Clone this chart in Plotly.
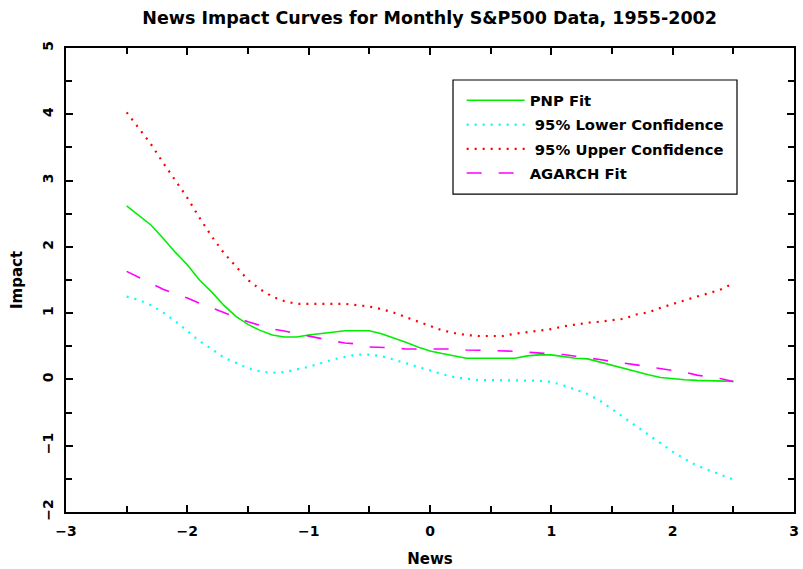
import plotly.graph_objects as go

news = [round(-2.5 + 0.1 * i, 1) for i in range(51)]

pnp_fit = [2.62, 2.48, 2.33, 2.13, 1.92, 1.73, 1.50, 1.32, 1.12, 0.95,
           0.83, 0.74, 0.67, 0.64, 0.64, 0.67, 0.69, 0.72, 0.735, 0.735,
           0.735, 0.69, 0.63, 0.56, 0.49, 0.43, 0.39, 0.355, 0.32, 0.32,
           0.32, 0.32, 0.32, 0.355, 0.37, 0.37, 0.34, 0.32, 0.31, 0.26,
           0.22, 0.17, 0.12, 0.07, 0.03, 0.01, -0.005, -0.015, -0.02, -0.03,
           -0.03]

lower_conf = [1.25, 1.20, 1.12, 1.01, 0.88, 0.73, 0.58, 0.46, 0.33, 0.25,
              0.17, 0.12, 0.10, 0.11, 0.15, 0.19, 0.245, 0.30, 0.34, 0.375,
              0.375, 0.35, 0.30, 0.245, 0.19, 0.13, 0.08, 0.035, 0.015, -0.01,
              -0.01, -0.01, -0.01, -0.01, -0.02, -0.04, -0.09, -0.155, -0.22, -0.32,
              -0.45, -0.57, -0.70, -0.84, -0.96, -1.09, -1.20, -1.30, -1.37, -1.44,
              -1.51]

upper_conf = [4.03, 3.79, 3.55, 3.27, 3.00, 2.74, 2.44, 2.16, 1.91, 1.70,
              1.50, 1.36, 1.25, 1.18, 1.14, 1.14, 1.14, 1.14, 1.14, 1.12,
              1.10, 1.06, 1.01, 0.94, 0.87, 0.80, 0.74, 0.70, 0.67, 0.655,
              0.655, 0.655, 0.69, 0.715, 0.74, 0.76, 0.80, 0.83, 0.855, 0.87,
              0.89, 0.915, 0.98, 1.01, 1.08, 1.14, 1.19, 1.25, 1.30, 1.36,
              1.45]

agarch_fit = [1.63, 1.54, 1.44, 1.36, 1.29, 1.23, 1.15, 1.08, 1.01, 0.94,
              0.87, 0.815, 0.76, 0.73, 0.69, 0.66, 0.61, 0.58, 0.55, 0.535,
              0.49, 0.485, 0.475, 0.46, 0.46, 0.46, 0.46, 0.46, 0.445, 0.44,
              0.44, 0.44, 0.425, 0.41, 0.40, 0.39, 0.375, 0.35, 0.33, 0.30,
              0.27, 0.25, 0.22, 0.19, 0.165, 0.14, 0.11, 0.065, 0.04, 0.01,
              -0.03]

x_ticks = [-3, -2, -1, 0, 1, 2, 3]
y_ticks = [-2, -1, 0, 1, 2, 3, 4, 5]

font_family = "DejaVu Sans"

fig = go.Figure()
fig.add_trace(go.Scatter(x=news, y=pnp_fit, mode="lines", name="PNP Fit", legendgroup="g1",
                         line=dict(color="#00ee00", width=1.6)))
fig.add_trace(go.Scatter(x=news, y=lower_conf, mode="lines", name=" 95% Lower Confidence", legendgroup="g2",
                         line=dict(color="#00ffff", width=2.2, dash="2px,6px")))
fig.add_trace(go.Scatter(x=news, y=upper_conf, mode="lines", name=" 95% Upper Confidence", legendgroup="g3",
                         line=dict(color="#ff0000", width=2.2, dash="2px,6px")))
fig.add_trace(go.Scatter(x=news, y=agarch_fit, mode="lines", name="AGARCH Fit", legendgroup="g4",
                         line=dict(color="#ff00ff", width=1.6, dash="15px,17px")))

axis_common = dict(
    showgrid=False, zeroline=False, showline=True, linecolor="black", linewidth=2,
    mirror="ticks", ticks="inside", ticklen=7, tickwidth=1.5, tickcolor="black",
    tickfont=dict(family=font_family, size=14, color="black", weight="bold"),
    automargin=False, ticklabelstandoff=5,
)

fig.update_xaxes(range=[-3, 3], tickvals=x_ticks, ticktext=[str(v).replace("-", "−") for v in x_ticks],
                 minor=dict(ticks="inside", ticklen=6, dtick=0.5, tickwidth=1.5, tickcolor="black"),
                 title=dict(text="News", font=dict(family=font_family, size=15, color="black", weight="bold"),
                            standoff=16),
                 **axis_common)
fig.update_yaxes(range=[-2, 5], tickvals=y_ticks, ticktext=[str(v).replace("-", "−") for v in y_ticks],
                 tickangle=-90,
                 minor=dict(ticks="inside", ticklen=6, dtick=0.5, tickwidth=1.5, tickcolor="black"),
                 title=dict(text="Impact", font=dict(family=font_family, size=15, color="black", weight="bold"),
                            standoff=14),
                 **axis_common)

# legend frame
fig.add_shape(type="rect", xref="paper", yref="paper",
              x0=0.5316, x1=0.9217, y0=0.685, y1=0.931,
              line=dict(color="black", width=1.2), fillcolor="white", layer="above")

fig.update_layout(
    width=803, height=569,
    margin=dict(l=66, r=9, t=48, b=57),
    paper_bgcolor="white", plot_bgcolor="white",
    title=dict(text="News Impact Curves for Monthly S&P500 Data, 1955-2002",
               x=0.535, xanchor="center", y=0.968, yanchor="middle",
               font=dict(family=font_family, size=17.5, color="black", weight="bold")),
    legend=dict(x=0.5435, y=0.922, xanchor="left", yanchor="top",
                borderwidth=0, bgcolor="rgba(0,0,0,0)",
                font=dict(family=font_family, size=14.8, color="black", weight="bold"),
                tracegroupgap=2, itemwidth=58),
    showlegend=True,
)

fig.write_html("out.html", config={"displayModeBar": False},
               post_script="document.body.style.margin='0';document.body.style.padding='0';")
